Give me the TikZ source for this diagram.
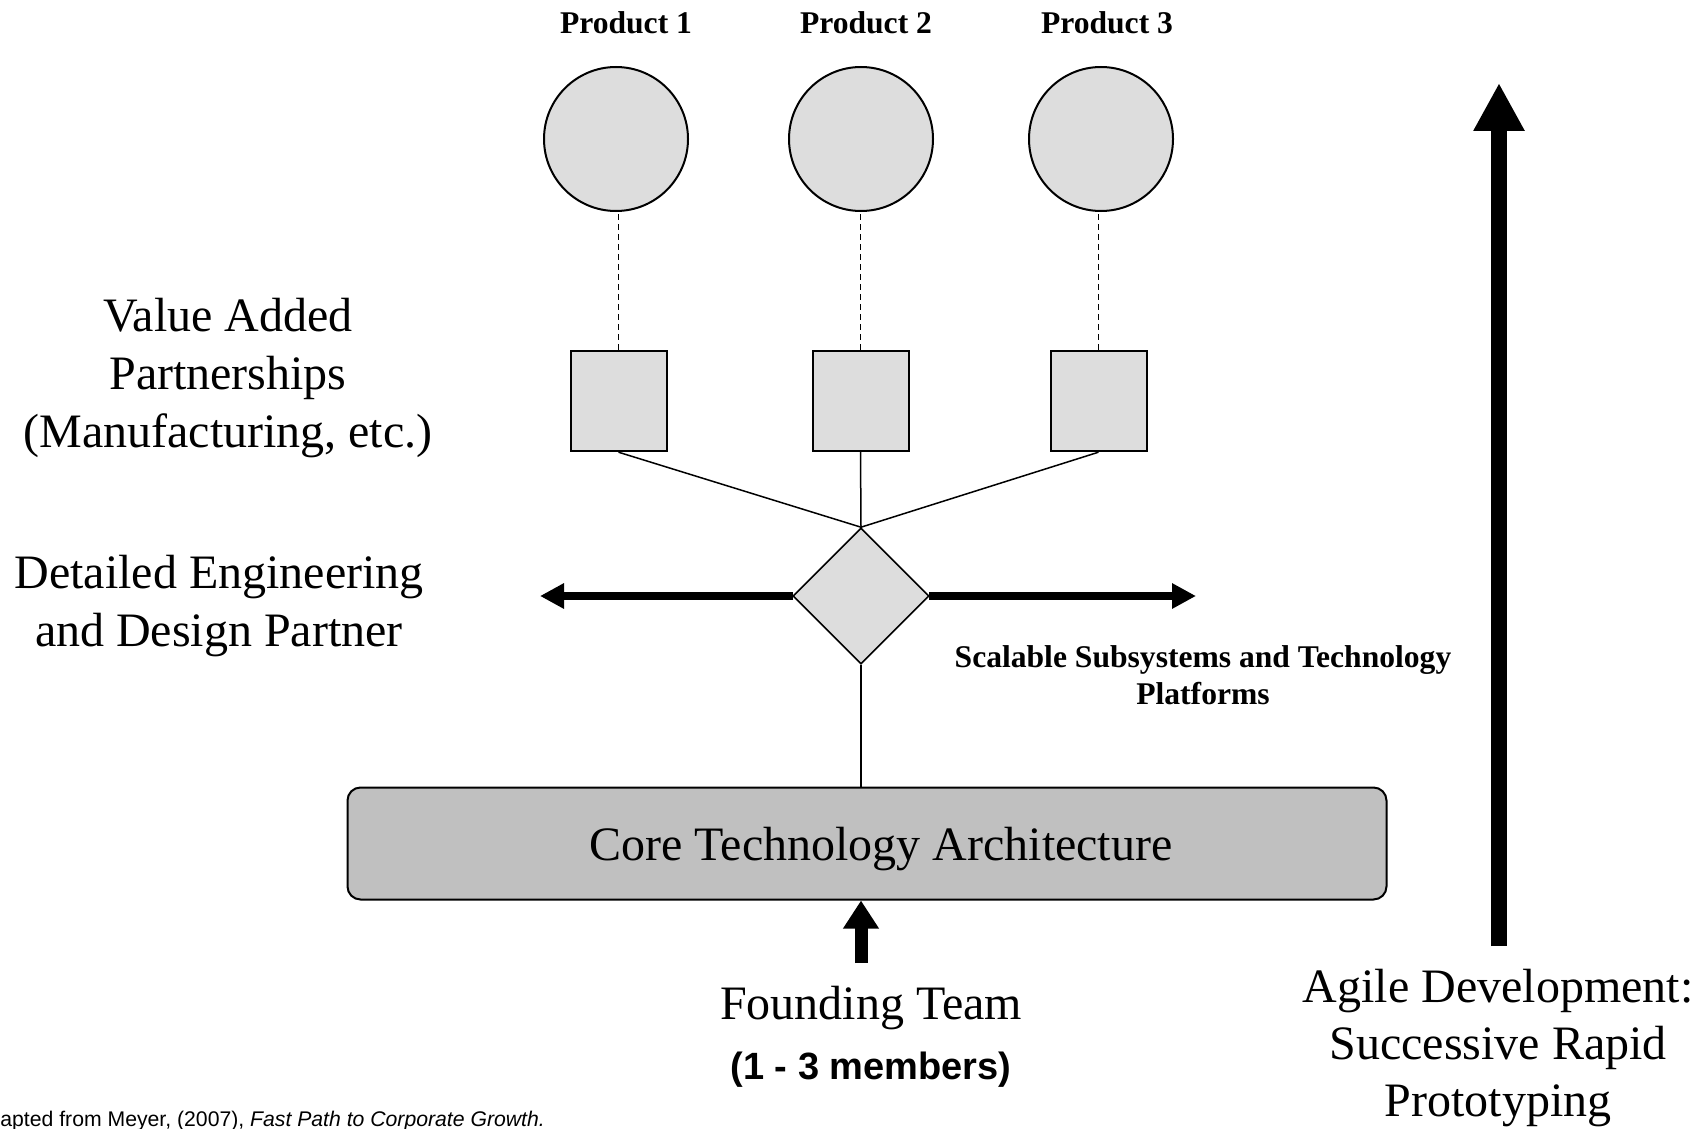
\documentclass[tikz,border=0pt]{standalone}
\usepackage{fontspec}
\setmainfont{Liberation Serif}
\setsansfont{Liberation Sans}
\usetikzlibrary{arrows.meta,shapes.geometric}
\definecolor{lightg}{RGB}{221,221,221}
\definecolor{coreg}{RGB}{192,192,192}
\begin{document}
\begin{tikzpicture}[x=0.5pt,y=-0.5pt,
  serif/.style={font=\fontsize{24}{29}\selectfont, align=center, inner sep=0pt},
  boldlabel/.style={font=\fontsize{15.8}{18.5}\selectfont\bfseries, align=center, inner sep=0pt},
  prodcircle/.style={circle, draw=black, line width=1pt, fill=lightg, minimum size=72pt, inner sep=0pt},
  partbox/.style={rectangle, draw=black, line width=1pt, fill=lightg, minimum width=48pt, minimum height=50.2pt, inner sep=0pt},
  platform/.style={diamond, draw=black, line width=0.8pt, fill=lightg, minimum width=68pt, minimum height=68pt, inner sep=0pt, aspect=1},
  corebox/.style={rectangle, rounded corners=6.5pt, draw=black, line width=1pt, fill=coreg, minimum width=519.5pt, minimum height=56pt, inner sep=0pt},
  linkline/.style={line width=0.75pt},
  dashconn/.style={line width=0.6pt, dash pattern=on 3pt off 2pt},
  fatarrow/.style={line width=4pt, -{Triangle[length=12pt,width=12pt]}},
  smallarrow/.style={line width=6.5pt, -{Triangle[length=14pt,width=17pt]}},
  bigarrow/.style={line width=8pt, -{Triangle[length=24pt,width=24pt]}}
]
\useasboundingbox (0,0) rectangle (1703,1129);

% product labels
\node[boldlabel, anchor=base] (p1) at (626,34) {Product 1};
\node[boldlabel, anchor=base] (p2) at (866,34) {Product 2};
\node[boldlabel, anchor=base] (p3) at (1107,34) {Product 3};

% product circles
\node[prodcircle] (c1) at (616,139) {};
\node[prodcircle] (c2) at (861,139) {};
\node[prodcircle] (c3) at (1101,139) {};

% partnership squares
\node[partbox] (s1) at (618.5,401) {};
\node[partbox] (s2) at (860.5,401) {};
\node[partbox] (s3) at (1098.5,401) {};

\draw[dashconn] (s1.north) -- (s1.north |- c1.south);
\draw[dashconn] (s2.north) -- (s2.north |- c2.south);
\draw[dashconn] (s3.north) -- (s3.north |- c3.south);

% horizontal arrows (behind diamond)
\coordinate (dcen) at (861,596);
\coordinate (lefttip) at (540,596);
\coordinate (righttip) at (1196,596);
\coordinate (dleft) at (793,596);
\coordinate (dright) at (929,596);
\draw[fatarrow] (dleft) -- (lefttip);
\draw[fatarrow] (dright) -- (righttip);

% diamond
\node[platform] (dia) at (dcen) {};

\draw[linkline] (s1.south) -- (dia.north);
\draw[linkline] (s2.south) -- (dia.north);
\draw[linkline] (s3.south) -- (dia.north);

% core box
\node[corebox] (core) at (867,843.5) {};
\node[serif, anchor=base] (coretext) at (881,860) {Core Technology Architecture};
\draw[linkline] (dia.south) -- (dia.south |- core.north);

% founding team arrow
\coordinate (ftail) at (861,963);
\draw[smallarrow] (ftail) -- (ftail |- core.south);
\node[serif, anchor=base] (found) at (871,1019) {Founding Team};
\node[font=\sffamily\bfseries\fontsize{19}{22}\selectfont, anchor=base, inner sep=0pt] (members) at (871,1079) {(1 - 3 members)};

% left labels
\node[serif] (vap) at (228,378) {Value Added\\Partnerships\\(Manufacturing, etc.)};
\node[serif] (dedp) at (219,606) {Detailed Engineering\\and Design Partner};

% scalable label
\node[boldlabel] (scal) at (1203,675) {Scalable Subsystems and Technology\\Platforms};

% agile arrow and label
\coordinate (abot) at (1499,946);
\coordinate (atop) at (1499,83);
\draw[bigarrow] (abot) -- (atop);
\node[serif, font=\fontsize{24}{28.5}\selectfont] (agile) at (1498,1048) {Agile Development:\\Successive Rapid\\Prototyping};

% source note
\node[font=\sffamily\fontsize{10.6}{13}\selectfont, anchor=base west, inner sep=0pt] (src) at (0,1126) {apted from Meyer, (2007), \textit{Fast Path to Corporate Growth.}};
\end{tikzpicture}
\end{document}
